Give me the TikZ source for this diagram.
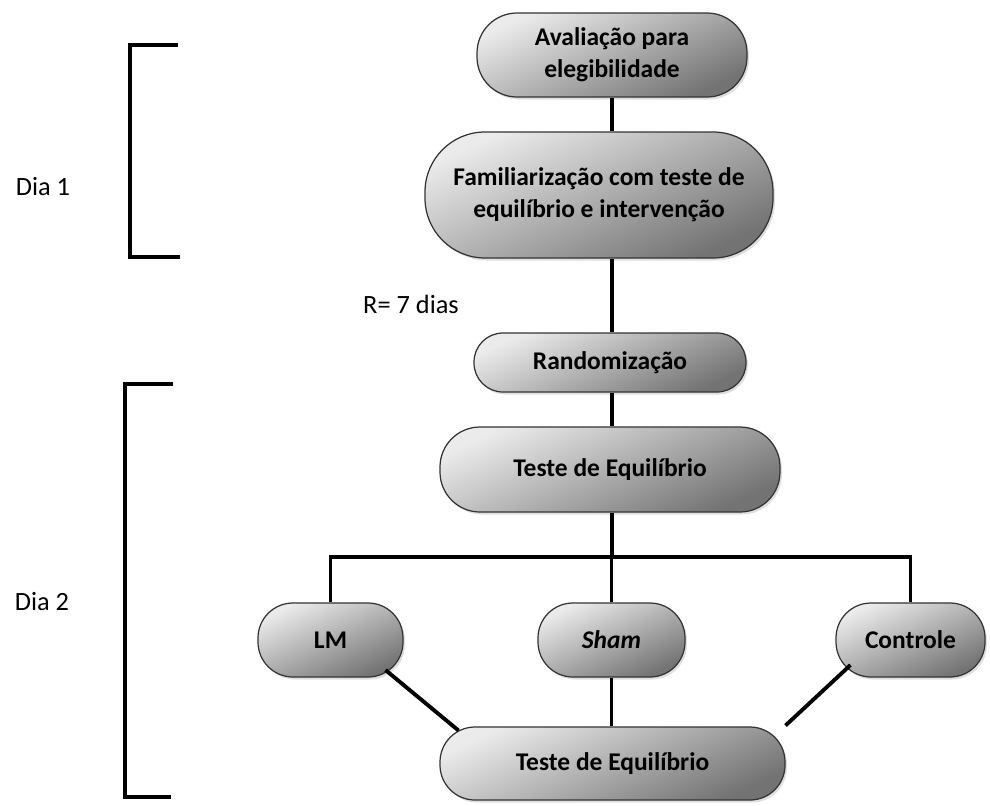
\documentclass[tikz,border=0pt]{standalone}
\usepackage{fontspec}
\setmainfont{Carlito}
\usetikzlibrary{positioning,calc,shadows}
\begin{document}
\begin{tikzpicture}[every node/.style={align=center},
  box/.style={draw=black!80,line width=0.7pt,rounded corners=0.75cm,top color=black!8,bottom color=black!55,shading angle=25,drop shadow={opacity=0.25,shadow xshift=0.04cm,shadow yshift=-0.05cm},font=\bfseries\fontsize{14.5}{18}\selectfont,inner sep=0pt},
  link/.style={line width=2.2pt},
  brack/.style={line width=2.6pt,line join=miter},
  lbl/.style={font=\fontsize{15}{18}\selectfont}]
\useasboundingbox (0,0) rectangle (19.8,-16.1);
\node[box,minimum width=5.4cm,minimum height=1.68cm,rounded corners=0.8cm] (aval) at (12.24,-1.10) {Avaliação para\\elegibilidade};
\node[box,minimum width=6.96cm,minimum height=2.52cm,rounded corners=1.2cm] (famil) at (11.98,-3.90) {Familiarização com teste de\\equilíbrio e intervenção};
\node[box,minimum width=5.44cm,minimum height=1.18cm,rounded corners=0.58cm] (rand) at (12.20,-7.25) {Randomização};
\node[box,minimum width=6.8cm,minimum height=1.7cm,rounded corners=0.8cm] (teste1) at (12.20,-9.39) {Teste de Equilíbrio};
\node[box,minimum width=2.9cm,minimum height=1.48cm,rounded corners=0.7cm] (lm) at (6.61,-12.80) {LM};
\node[box,minimum width=2.94cm,minimum height=1.48cm,rounded corners=0.7cm] (sham) at (12.23,-12.80) {\itshape Sham};
\node[box,minimum width=2.98cm,minimum height=1.48cm,rounded corners=0.7cm] (ctrl) at (18.21,-12.80) {Controle};
\node[box,minimum width=6.9cm,minimum height=1.46cm,rounded corners=0.7cm] (teste2) at (12.25,-15.27) {Teste de Equilíbrio};
\coordinate (split) at (12.24,-11.14);
% connectors
\draw[link] (aval.south) -- (aval.south |- famil.north);
\draw[link] (aval.south |- famil.south) -- (aval.south |- rand.north);
\draw[link] (rand.south -| aval.south) -- (aval.south |- teste1.north);
\draw[link] (aval.south |- teste1.south) -- (aval.south |- split);
\draw[link] (lm.north) -- (lm.north |- split) -- (ctrl.north |- split) -- (ctrl.north);
\draw[link] (sham.north |- split) -- (sham.north);
\draw[link] (sham.south) -- (sham.south |- teste2.north);
\draw[link] ($(lm.center)+(1.1,-0.6)$) -- ($(teste2.center)+(-3.08,0.66)$);
\draw[link] ($(ctrl.center)+(-1.2,-0.5)$) -- ($(teste2.center)+(3.46,0.76)$);
% brackets
\draw[brack] (3.56,-0.9) -| (2.6,-5.14) -- (3.6,-5.14);
\draw[brack] (3.46,-7.68) -| (2.5,-15.94) -- (3.42,-15.94);
\node[lbl] (dia1) at (0.86,-3.74) {Dia 1};
\node[lbl] (dia2) at (0.84,-12.04) {Dia 2};
\node[lbl] (pausa) at (8.22,-6.08) {R= 7 dias};
\end{tikzpicture}
\end{document}
